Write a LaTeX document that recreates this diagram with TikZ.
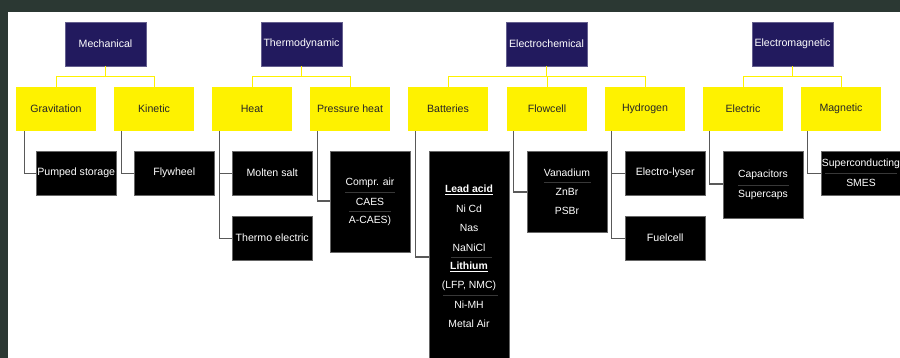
\documentclass[tikz,border=0pt]{standalone}
\usepackage{fontspec}
\setmainfont{Liberation Sans}
\begin{document}
\begin{tikzpicture}[x=1pt,y=-1pt,
  every node/.style={font=\fontsize{10.6}{12}\selectfont, inner sep=0pt},
  topbox/.style={fill=navy, draw=navy!70!white, line width=0.4pt, minimum width=81pt, minimum height=44pt, text=white},
  catbox/.style={fill=yel, minimum width=80pt, minimum height=44pt, text=black!85},
  techbox/.style={fill=black, draw=black!60, line width=0.4pt, minimum width=80pt, text=white, anchor=north west},
  item/.style={text=white, font=\fontsize{10.4}{12}\selectfont},
  yline/.style={draw=yel, line width=1pt},
  gline/.style={draw=black!65, line width=1.2pt},
  rule/.style={draw=white!22!black, line width=0.4pt}
]
\definecolor{navy}{HTML}{221A5E}
\definecolor{yel}{HTML}{FEF200}
\definecolor{bg}{HTML}{2B3833}
\useasboundingbox (0,0) rectangle (900,358);
\fill[bg] (0,0) rectangle (900,358);
\fill[white] (8,12) rectangle (900,358);

% top level
\node[topbox] (mech) at (105.5,44) {Mechanical};
\node[topbox] (thermo) at (301.5,44) {Thermodynamic};
\node[topbox] (echem) at (546.5,44) {Electrochemical};
\node[topbox] (emag) at (792.5,44) {Electromagnetic};

% categories
\node[catbox] (grav) at (56,109) {Gravitation};
\node[catbox] (kin) at (154,109) {Kinetic};
\node[catbox] (heat) at (252,109) {Heat};
\node[catbox] (press) at (350,109) {Pressure heat};
\node[catbox] (batt) at (448,109) {Batteries};
\node[catbox] (flow) at (547,109) {Flowcell};
\node[catbox] (hyd) at (645,109) {Hydrogen};
\node[catbox] (elec) at (743,109) {Electric};
\node[catbox] (magn) at (841,109) {Magnetic};

% yellow connectors
\draw[yline] (mech.south) -- ++(0,10) -| (grav.north);
\draw[yline] (mech.south) -- ++(0,10) -| (kin.north);
\draw[yline] (thermo.south) -- ++(0,10) -| (heat.north);
\draw[yline] (thermo.south) -- ++(0,10) -| (press.north);
\draw[yline] (echem.south) -- ++(0,10) -| (batt.north);
\draw[yline] (echem.south) -- ++(0,10) -| (flow.north);
\draw[yline] (echem.south) -- ++(0,10) -| (hyd.north);
\draw[yline] (emag.south) -- ++(0,10) -| (elec.north);
\draw[yline] (emag.south) -- ++(0,10) -| (magn.north);

% technology boxes
\node[techbox, minimum height=44pt] (pumped) at (36,151) {Pumped storage};
\node[techbox, minimum height=44pt] (fly) at (134,151) {Flywheel};
\node[techbox, minimum height=44pt] (molten) at (232,151) {Molten salt};
\node[techbox, minimum height=44pt] (telec) at (232,216) {Thermo electric};
\node[techbox, minimum height=101pt] (caes) at (330,151) {};
\node[techbox, minimum height=215pt] (battbox) at (429,151) {};
\node[techbox, minimum height=81pt] (vana) at (527,151) {};
\node[techbox, minimum height=44pt] (lyser) at (625,151) {Electro-lyser};
\node[techbox, minimum height=44pt] (fuel) at (625,216) {Fuelcell};
\node[techbox, minimum height=67pt] (caps) at (723,151) {};
\node[techbox, minimum height=44pt] (scond) at (821,151) {};

% items in boxes
\node[item] (ca1) at (370,183) {Compr. air};
\node[item] (ca2) at (370,202) {CAES};
\node[item] (ca3) at (370,221) {A-CAES)};
\draw[rule] (345,192.5) -- (395,192.5);
\draw[rule] (349,211.5) -- (391,211.5);

\node[item, font=\fontsize{10.4}{12}\selectfont\bfseries] (b1) at (469,190) {\underline{Lead acid}};
\node[item] (b2) at (469,209) {Ni Cd};
\node[item] (b3) at (469,228) {Nas};
\node[item] (b4) at (469,248) {NaNiCl};
\node[item, font=\fontsize{10.4}{12}\selectfont\bfseries] (b5) at (469,267) {\underline{Lithium}};
\node[item] (b6) at (469,286) {(LFP, NMC)};
\node[item] (b7) at (469,305) {Ni-MH};
\node[item] (b8) at (469,324) {Metal Air};
\draw[rule] (451,257.5) -- (492,257.5);
\draw[rule] (443,295.5) -- (498,295.5);

\node[item] (v1) at (567,173) {Vanadium};
\node[item] (v2) at (567,192) {ZnBr};
\node[item] (v3) at (567,211) {PSBr};
\draw[rule] (544,182.5) -- (591,182.5);

\node[item] (c1) at (763,175) {Capacitors};
\node[item] (c2) at (763,195) {Supercaps};
\draw[rule] (738,185) -- (789,185);

\node[item] (s1) at (861,164) {Superconducting};
\node[item] (s2) at (861,183) {SMES};
\draw[rule] (825,173.5) -- (897,173.5);

% gray connectors
\draw[gline] ([xshift=9pt]grav.south west) |- (pumped.west);
\draw[gline] ([xshift=8pt]kin.south west) |- (fly.west);
\draw[gline] ([xshift=8pt]heat.south west) |- (molten.west);
\draw[gline] ([xshift=8pt]heat.south west) |- (telec.west);
\draw[gline] ([xshift=8pt]press.south west) |- ([yshift=-50pt]caes.north west);
\draw[gline] ([xshift=8pt]batt.south west) |- ([yshift=-106pt]battbox.north west);
\draw[gline] ([xshift=7pt]flow.south west) |- ([yshift=-41pt]vana.north west);
\draw[gline] ([xshift=7pt]hyd.south west) |- (lyser.west);
\draw[gline] ([xshift=7pt]hyd.south west) |- (fuel.west);
\draw[gline] ([xshift=7pt]elec.south west) |- ([yshift=-33pt]caps.north west);
\draw[gline] ([xshift=7pt]magn.south west) |- (scond.west);
\end{tikzpicture}
\end{document}
